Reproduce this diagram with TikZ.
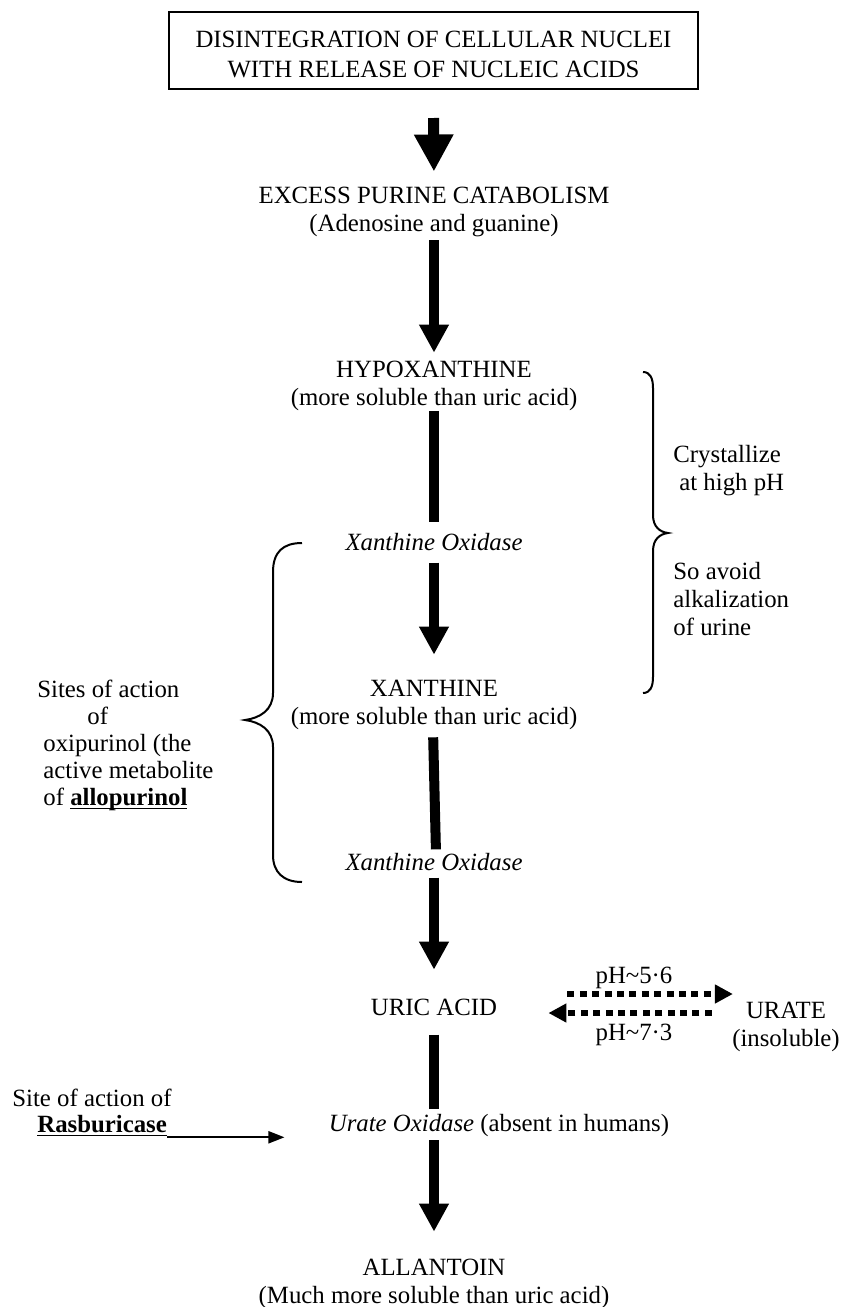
\documentclass[tikz,border=0pt]{standalone}
\usepackage{fontspec}
\setmainfont{Liberation Serif}
\usetikzlibrary{arrows.meta}

\begin{document}
\begin{tikzpicture}[x=0.5pt,y=-0.5pt,
  txt/.style={inner sep=0pt, align=center, font=\fontsize{12.4}{14}\selectfont},
  ital/.style={txt, font=\fontsize{12.4}{14}\selectfont\itshape},
  lefttxt/.style={txt, align=left, anchor=west},
  fat/.style={line width=5pt, -{Triangle[width=14pt,length=14pt]}},
  bigfat/.style={line width=5.5pt, -{Triangle[width=18.5pt,length=18.5pt]}},
  fatline/.style={line width=5pt},
  dots/.style={line width=3.2pt, dash pattern=on 3.5pt off 2.7pt, -{Triangle[width=9pt,length=9pt]}},
  pointer/.style={line width=1pt, -{Triangle[width=6pt,length=8pt]}},
  curly/.style={line width=1pt}]
  \useasboundingbox (0,0) rectangle (845,1307);

  % Nodes
  \node[txt, draw, line width=1pt, minimum width=264.5pt, minimum height=38.5pt,
        font=\fontsize{12.4}{15}\selectfont] (nuclei) at (433.5,50.5)
        {\rule{0pt}{12.2pt}DISINTEGRATION OF CELLULAR NUCLEI\\WITH RELEASE OF NUCLEIC ACIDS};
  \node[txt] (purine) at (434,211.6) {EXCESS PURINE CATABOLISM\\(Adenosine and guanine)};
  \node[txt] (hypo) at (434,385.5) {HYPOXANTHINE\\(more soluble than uric acid)};
  \node[ital] (xo1) at (434,542.5) {Xanthine Oxidase};
  \node[txt] (xan) at (434,704.5) {XANTHINE\\(more soluble than uric acid)};
  \node[ital] (xo2) at (434,862.5) {Xanthine Oxidase};
  \node[txt] (uric) at (434,1007) {URIC ACID};
  \node[txt] (uox) at (499,1126) {\textit{Urate Oxidase} (absent in humans)};
  \node[txt] (allan) at (434,1283.5) {ALLANTOIN\\(Much more soluble than uric acid)};
  \node[txt] (urate) at (786,1026.5) {URATE\\(insoluble)};
  \node[txt] (ph1) at (634,978) {pH\textasciitilde5·6};
  \node[txt] (ph2) at (634,1035) {pH\textasciitilde7·3};
  \node[lefttxt] (crys) at (673,471) {Crystallize\\\hspace*{3pt}at high pH};
  \node[lefttxt] (avoid) at (673,599.5) {So avoid\\alkalization\\of urine};
  \node[lefttxt, font=\fontsize{12.4}{13.5}\selectfont] (sites) at (37,745)
        {Sites of action\\\hspace*{25pt}of\\\hspace*{3pt}oxipurinol (the\\\hspace*{3pt}active metabolite\\\hspace*{3pt}of \underline{\smash{\textbf{allopurinol}}}};
  \node[lefttxt, font=\fontsize{12.4}{13}\selectfont] (site) at (12,1113)
        {Site of action of\\\hspace*{12.5pt}\underline{\textbf{Rasburicase}}};

  % Arrows
  \draw[bigfat, shorten <=14pt, shorten >=7.4pt] (nuclei.south) -- (purine.north);
  \draw[fat, shorten <=1.8pt, shorten >=3.8pt] (purine.south) -- (hypo.north);
  \draw[fatline, shorten >=5.5pt] (hypo.south) -- (xo1.north);
  \draw[fat, shorten <=5.5pt, shorten >=12.3pt] (xo1.south) -- (xan.north);
  \draw[fatline, shorten <=3.8pt, shorten >=2pt] ([xshift=-0.5pt]xan.south) -- ([xshift=1pt]xo2.north);
  \draw[fat, shorten <=3pt, shorten >=14.3pt] (xo2.south) -- (uric.north);
  \draw[fatline, shorten <=9.5pt, shorten >=2.5pt] (uric.south) -- (uric.south |- uox.north);
  \draw[fat, shorten <=1.4pt, shorten >=13.3pt] (uric.south |- uox.south) -- (allan.north);
  \draw[dots] ([xshift=35pt,yshift=6.5pt]uric.east) -- ([xshift=0.5pt,yshift=16.25pt]urate.west);
  \draw[dots] ([xshift=-10pt,yshift=6.75pt]urate.west) -- ([xshift=25.5pt,yshift=-3pt]uric.east);
  \draw[pointer, shorten <=-2.5pt, shorten >=22pt] (site.south east) -- (site.south east -| uox.west);

  % Braces
  \draw[curly] (643,372) .. controls (650,372) and (653,378) .. (653,388) -- (653,515)
    .. controls (653,527) and (660,532) .. (668,533)
    .. controls (660,534) and (653,539) .. (653,551) -- (653,677)
    .. controls (653,687) and (650,693) .. (643,693);
  \draw[curly] (302,543) .. controls (283,543) and (273,552) .. (273,572) -- (273,693)
    .. controls (273,710) and (260,718) .. (245,720)
    .. controls (260,722) and (273,730) .. (273,747) -- (273,855)
    .. controls (273,872) and (283,882) .. (302,882);
\end{tikzpicture}
\end{document}
